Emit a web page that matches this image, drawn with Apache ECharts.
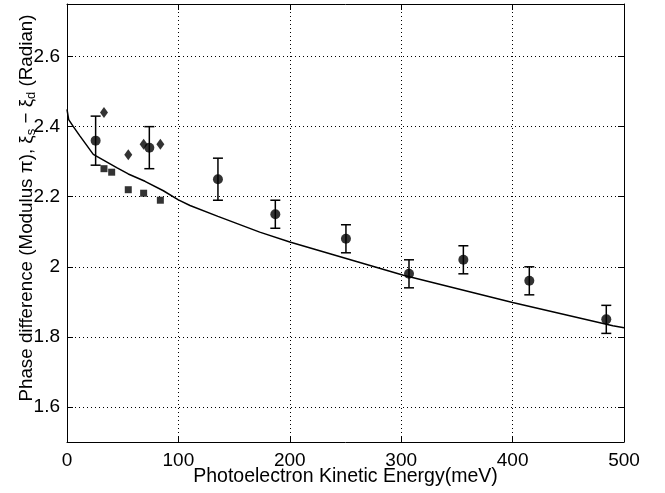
<!DOCTYPE html>
<html>
<head>
<meta charset="utf-8">
<script src="https://cdn.jsdelivr.net/npm/echarts@6/dist/echarts.min.js"></script>
<style>
html,body{margin:0;padding:0;background:#fff;}
#chart{width:665px;height:493px;}
</style>
</head>
<body>
<div id="chart"></div>
<script>
// ---- data ----
const energyCircles = [25.7, 73.9, 135.5, 187.0, 250.4, 307.0, 355.8, 415.0, 484.1];
const phaseCircles  = [2.36, 2.34, 2.25, 2.15, 2.08, 1.98, 2.02, 1.96, 1.85];
const errCircles    = [0.07, 0.06, 0.06, 0.04, 0.04, 0.04, 0.04, 0.04, 0.04];

const energyDiamonds = [33.2, 55.0, 68.8, 83.8];
const phaseDiamonds  = [2.44, 2.32, 2.35, 2.35];

const energySquares = [33.2, 40.1, 55.0, 68.8, 83.8];
const phaseSquares  = [2.28, 2.27, 2.22, 2.21, 2.19];

const curveEnergy = [0, 1.5, 5.7, 11.7, 23.6, 44.6, 55, 70, 86.5, 100, 110.4, 135.5, 173, 200, 302, 400, 490, 500];
const curvePhase  = [2.449, 2.42, 2.40, 2.373, 2.321, 2.283, 2.265, 2.244, 2.217, 2.191, 2.175, 2.144, 2.099, 2.071, 1.976, 1.898, 1.832, 1.826];

const xTicks = [0, 100, 200, 300, 400, 500];
const yTicks = [1.6, 1.8, 2.0, 2.2, 2.4, 2.6];

const xTitle = 'Photoelectron Kinetic Energy(meV)';
const yTitle = 'Phase difference (Modulus π), ξ{sub|s} − ξ{sub|d} (Radian)';

// ---- chart ----
const FONT = '"Liberation Sans", Arial, Helvetica, sans-serif';
const FS = 19;
const chart = echarts.init(document.getElementById('chart'), null, {renderer: 'canvas'});

const zip = (a, b) => a.map((v, i) => [v, b[i]]);
const errData = energyCircles.map((v, i) => [v, phaseCircles[i], errCircles[i]]);

const gridLine = {show: true, lineStyle: {color: '#000', width: 1, type: [1, 3]}};
const axLine = {show: true, onZero: false, lineStyle: {color: '#000', width: 1}};
const tickIn = {show: true, inside: true, length: 6, lineStyle: {color: '#000', width: 1}};

const option = {
  animation: false,
  backgroundColor: '#fff',
  grid: {left: 67, right: 41, top: 4, bottom: 51, containLabel: false, outerBoundsMode: 'none'},
  xAxis: [
    {
      type: 'value', min: 0, max: 500, interval: 100, position: 'bottom',
      axisLine: axLine,
      axisTick: Object.assign({customValues: xTicks}, tickIn),
      axisLabel: {customValues: xTicks, color: '#000', fontFamily: FONT, fontSize: FS, margin: 9},
      splitLine: gridLine,
      name: xTitle, nameLocation: 'middle', nameGap: 25, nameMoveOverlap: false,
      nameTextStyle: {color: '#000', fontFamily: FONT, fontSize: 19.5}
    },
    {
      type: 'value', min: 0, max: 500, interval: 100, position: 'top',
      axisLine: axLine, axisTick: tickIn,
      axisLabel: {show: false}, splitLine: {show: false}
    }
  ],
  yAxis: [
    {
      type: 'value', min: 1.5, max: 2.75, position: 'left',
      axisLine: axLine,
      axisTick: Object.assign({customValues: yTicks}, tickIn),
      axisLabel: {customValues: yTicks, color: '#000', fontFamily: FONT, fontSize: FS, margin: 7},
      splitLine: gridLine,
      name: yTitle, nameLocation: 'middle', nameGap: 29, nameRotate: 90, nameMoveOverlap: false,
      nameTextStyle: {
        color: '#000', fontFamily: FONT, fontSize: 18.8, padding: [0, 0, 0, 30],
        rich: {
          sub: {fontFamily: FONT, fontSize: 13, color: '#000', padding: [10, 0, 0, 0]}
        }
      }
    },
    {
      type: 'value', min: 1.5, max: 2.75, position: 'right',
      axisLine: axLine,
      axisTick: Object.assign({customValues: yTicks}, tickIn),
      axisLabel: {show: false}, splitLine: {show: false}
    }
  ],
  series: [
    {
      type: 'line', data: zip(curveEnergy, curvePhase), xAxisIndex: 0, yAxisIndex: 0,
      smooth: false, showSymbol: false, symbol: 'none',
      lineStyle: {color: '#000', width: 1.5}, z: 3
    },
    {
      type: 'custom', data: errData, xAxisIndex: 0, yAxisIndex: 0, z: 4,
      renderItem: function (params, api) {
        const x = api.value(0), y = api.value(1), e = api.value(2);
        const t = api.coord([x, y + e]);
        const b = api.coord([x, y - e]);
        const hw = 5;
        const st = {stroke: '#000', lineWidth: 1.5};
        return {
          type: 'group',
          children: [
            {type: 'line', shape: {x1: t[0], y1: t[1], x2: b[0], y2: b[1]}, style: st},
            {type: 'line', shape: {x1: t[0] - hw, y1: t[1], x2: t[0] + hw, y2: t[1]}, style: st},
            {type: 'line', shape: {x1: b[0] - hw, y1: b[1], x2: b[0] + hw, y2: b[1]}, style: st}
          ]
        };
      }
    },
    {
      type: 'scatter', data: zip(energyCircles, phaseCircles), symbol: 'circle', symbolSize: 10,
      itemStyle: {color: '#000'}, z: 5
    },
    {
      type: 'scatter', data: zip(energyDiamonds, phaseDiamonds), symbol: 'diamond', symbolSize: [8, 11],
      itemStyle: {color: '#000'}, z: 5
    },
    {
      type: 'scatter', data: zip(energySquares, phaseSquares), symbol: 'rect', symbolSize: 7,
      itemStyle: {color: '#000'}, z: 5
    }
  ]
};
chart.setOption(option);
</script>
</body>
</html>
